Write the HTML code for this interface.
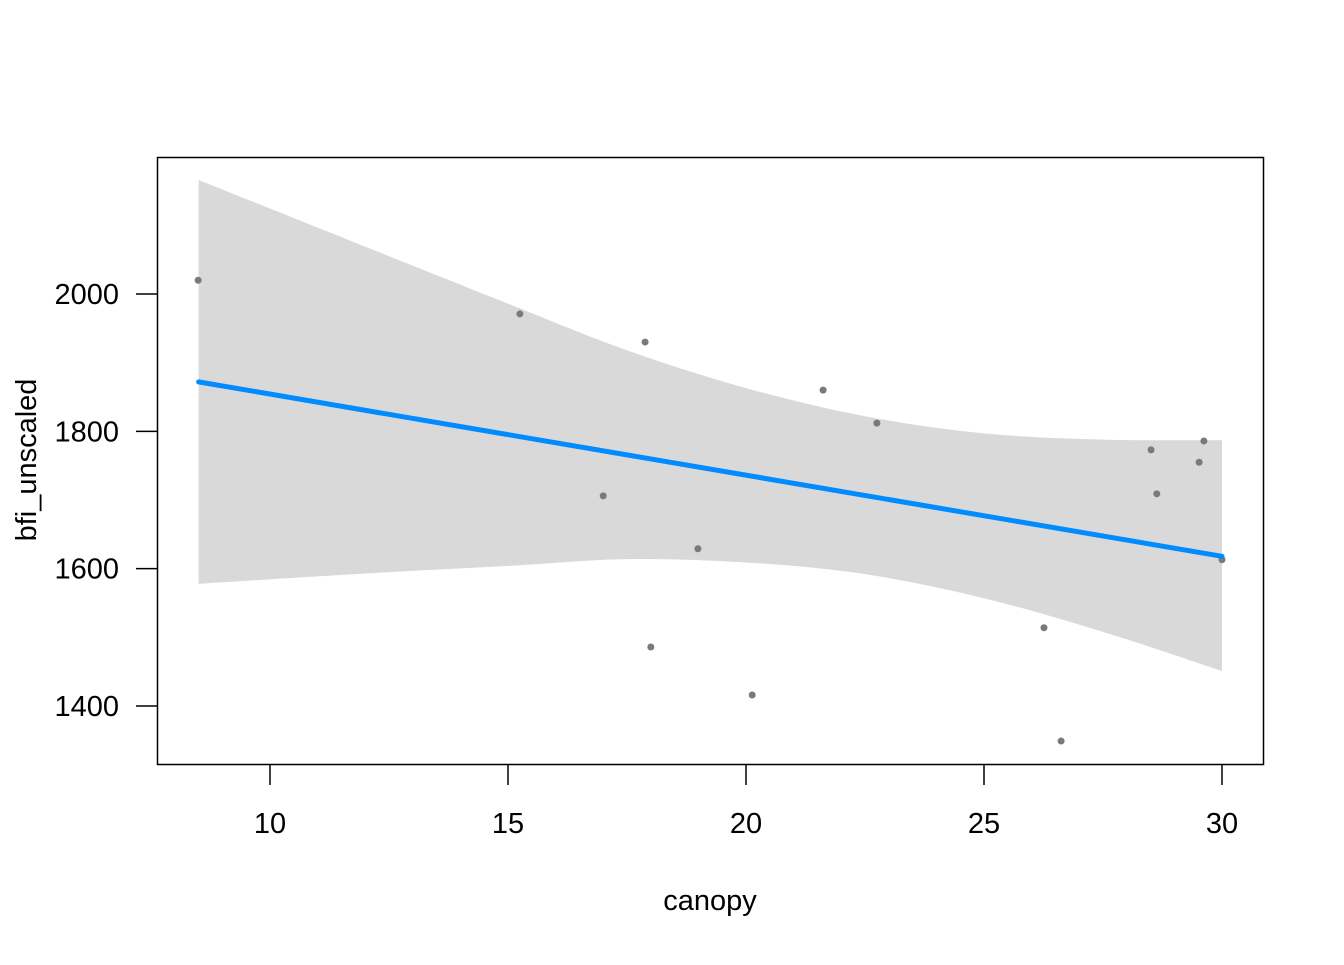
<!DOCTYPE html>
<html><head><meta charset="utf-8"><style>body{margin:0;background:#fff}svg text{font-family:"Liberation Sans",Arial,sans-serif}</style></head>
<body>
<svg id="c" width="1344" height="960"></svg>
<script>
const xs=[8.49,15.25,17.88,17.0,18.99,18.0,20.13,21.62,22.75,26.26,26.62,28.51,28.63,29.52,29.62,30.0];
const ys=[2020,1971,1930,1706,1629,1486,1416,1860,1812,1514,1349,1773,1709,1755,1786,1613];
const fitX=[8.5,30];
const fitY=[1872,1618];
const bandX=[8.5,12,15,17.5,20,22.5,25,27.5,30];
const bandUpper=[2166,2069,1986,1918,1863,1822,1797,1788,1787];
const bandLower=[1578,1593,1604,1614,1609,1592,1557,1508,1451];
const xTicks=[10,15,20,25,30];
const yTicks=[1400,1600,1800,2000];
const sx=v=>270+(v-10)*47.6;
const sy=v=>294-(v-2000)*0.6867;
const svg=document.getElementById('c');const NS='http://www.w3.org/2000/svg';
function mk(t,a,p){const e=document.createElementNS(NS,t);for(const k in a)e.setAttribute(k,a[k]);(p||svg).appendChild(e);return e;}
function smooth(P){let d='';for(let i=0;i<P.length-1;i++){const p0=P[Math.max(i-1,0)],p1=P[i],p2=P[i+1],p3=P[Math.min(i+2,P.length-1)];
const c1=[p1[0]+(p2[0]-p0[0])/6,p1[1]+(p2[1]-p0[1])/6],c2=[p2[0]-(p3[0]-p1[0])/6,p2[1]-(p3[1]-p1[1])/6];
d+=' C'+c1+' '+c2+' '+p2;}return d;}
const U=bandX.map((x,i)=>[sx(x),sy(bandUpper[i])]);
const L=bandX.map((x,i)=>[sx(x),sy(bandLower[i])]).reverse();
const d='M'+U[0]+smooth(U)+' L'+L[0]+smooth(L)+' Z';
const band=mk('path',{d:d,fill:'#d9d9d9'});


xs.forEach((x,i)=>{const c=mk('circle',{cx:sx(x),cy:sy(ys[i]),r:3.5,fill:'#7a7a7a'});

});
const ln=mk('line',{x1:sx(fitX[0]),y1:sy(fitY[0]),x2:sx(fitX[1]),y2:sy(fitY[1]),stroke:'#008cff','stroke-width':5,'stroke-linecap':'round'});


const box=mk('rect',{x:157.5,y:157.5,width:1106,height:607,fill:'none',stroke:'#000','stroke-width':1.5});


xTicks.forEach(t=>{const l=mk('line',{x1:sx(t),x2:sx(t),y1:764,y2:785,stroke:'#000','stroke-width':1.5});


const tx=mk('text',{x:sx(t),y:833,'text-anchor':'middle','font-size':29});tx.textContent=t;

});
yTicks.forEach(t=>{const l=mk('line',{x1:136,x2:157,y1:sy(t),y2:sy(t),stroke:'#000','stroke-width':1.5});


const tx=mk('text',{x:119,y:sy(t)+10,'text-anchor':'end','font-size':29});tx.textContent=t;

});
const xl=mk('text',{x:710,y:910,'text-anchor':'middle','font-size':29});xl.textContent='canopy';


const yl=mk('text',{x:0,y:0,'text-anchor':'middle','font-size':29,transform:'translate(36,460) rotate(-90)'});yl.textContent='bfi_unscaled';


</script>
</body></html>
